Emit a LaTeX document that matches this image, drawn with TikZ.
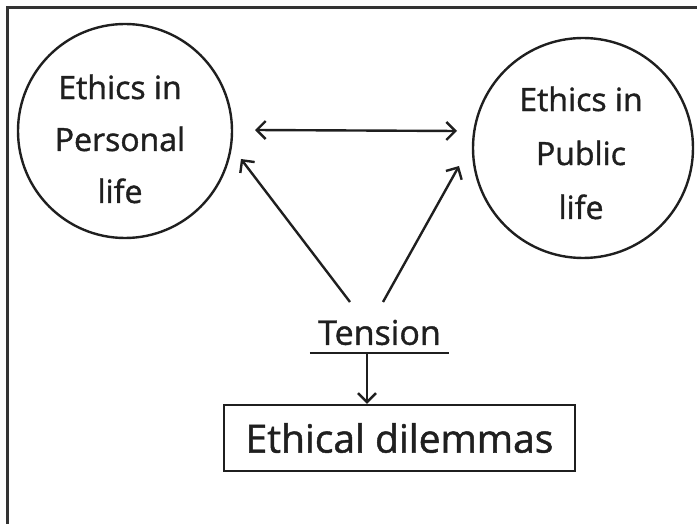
\documentclass[tikz,border=0pt]{standalone}
\usepackage{fontspec}
\setmainfont[FakeBold=1.2]{Open Sans}
\usetikzlibrary{arrows.meta}
\begin{document}
\begin{tikzpicture}[x=1pt,y=-1pt,
  ink/.style={line width=2.4pt,draw=black!88},
  barb/.style={ink,-{Straight Barb[length=9pt,width=18pt,line width=2.4pt]}},
  dbarb/.style={ink,{Straight Barb[length=9pt,width=18pt,line width=2.4pt]}-{Straight Barb[length=9pt,width=18pt,line width=2.4pt]}},
  bubble/.style={ink,circle,inner sep=0pt},
  bubbletext/.style={align=center,text=black!88,font=\fontsize{32}{52}\selectfont},
  frameline/.style={line width=3pt,draw=black!80}]
  \useasboundingbox (0,0) rectangle (697,524);
  % page frame (top and left edges)
  \draw[frameline] (697,8) -- (7,8) -- (7,524);
  % the two spheres of ethics
  \node[bubble,minimum size=214pt] (personal) at (125,131) {};
  \node[bubbletext] (personaltext) at (120,139) {Ethics in\\Personal\\life};
  \node[bubble,minimum size=220pt] (public) at (583,148) {};
  \node[bubbletext,font=\fontsize{32}{54}\selectfont] (publictext) at (581,153) {Ethics in\\Public\\life};
  % tension and its outcome
  \node[font=\fontsize{34}{40}\selectfont,text=black!88,minimum width=139pt,inner sep=0pt,anchor=south,text depth=8pt] (tension) at (379.5,353) {Tension};
  \node[ink,rectangle,minimum width=351pt,minimum height=66pt,inner sep=0pt,text=black!88,font=\fontsize{39}{44}\selectfont] (dilemma) at (399.5,438) {Ethical dilemmas};
  \draw[ink] (tension.south west) -- (tension.south east);
  \coordinate (pl) at (255,130);
  \coordinate (pr) at (457,131);
  \coordinate (tl) at (350,302);
  \coordinate (tr) at (383,302);
  \coordinate (tipl) at (241,159);
  \coordinate (tipr) at (459,166);
  \draw[dbarb] (pl) -- (pr);
  \draw[barb] (tl) -- (tipl);
  \draw[barb] (tr) -- (tipr);
  \draw[barb] ([xshift=-12.5pt]tension.south) -- ([xshift=-12.5pt]tension.south |- dilemma.north);
\end{tikzpicture}
\end{document}
